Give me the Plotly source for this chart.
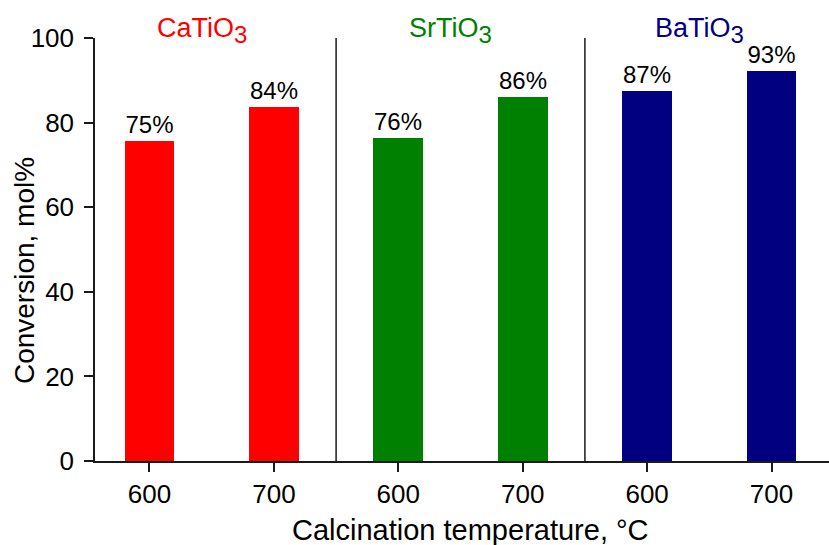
import plotly.graph_objects as go

materials = ["CaTiO<sub><span style='font-size:24px'>3</span></sub>",
             "SrTiO<sub><span style='font-size:24px'>3</span></sub>",
             "BaTiO<sub><span style='font-size:24px'>3</span></sub>"]
material_colors = ["#ff0000", "#008000", "#000080"]
temperatures = ["600", "700"]
conversion_ca = [75.6, 83.7]
conversion_sr = [76.3, 86.1]
conversion_ba = [87.5, 92.3]
labels_ca = ["75%", "84%"]
labels_sr = ["76%", "86%"]
labels_ba = ["87%", "93%"]

series = [conversion_ca, conversion_sr, conversion_ba]
labels = [labels_ca, labels_sr, labels_ba]

FONT = "Liberation Sans, Arial, sans-serif"
AX = "#1a1a1a"

fig = go.Figure()
xs_all, tt_all = [], []
for g, (vals, labs, col) in enumerate(zip(series, labels, material_colors)):
    xs = [g * len(temperatures) + i for i in range(len(temperatures))]
    xs_all += xs
    tt_all += temperatures
    fig.add_trace(go.Bar(
        x=xs, y=vals, width=0.4,
        marker=dict(color=col, line=dict(width=0)),
        text=labs, textposition="outside", cliponaxis=False,
        textfont=dict(family=FONT, size=24, color="#000"),
        showlegend=False,
    ))

ngroups = len(materials)
for g in range(1, ngroups):
    xsep = g * len(temperatures) - 0.5
    fig.add_shape(type="line", xref="x", yref="y", x0=xsep, x1=xsep, y0=0, y1=100,
                  line=dict(color=AX, width=1.5))

for g, (name, col) in enumerate(zip(materials, material_colors)):
    fig.add_annotation(x=g * len(temperatures) + 0.5, y=1, xref="x", yref="paper",
                       yanchor="bottom", xanchor="center", xshift=-10, yshift=-12,
                       text=name, showarrow=False,
                       font=dict(family=FONT, size=27, color=col))

fig.add_annotation(x=0, xref="paper", xshift=-71, y=0.449, yref="paper",
                   text="Conversion, mol%", textangle=-90, showarrow=False,
                   xanchor="center", yanchor="middle",
                   font=dict(family=FONT, size=28, color="#000"))
fig.add_annotation(x=0.5, xref="paper", xshift=8, y=-0.17, yref="paper", yshift=3,
                   text="Calcination temperature, °C", showarrow=False,
                   xanchor="center", yanchor="middle",
                   font=dict(family=FONT, size=29, color="#000"))

fig.update_layout(
    width=829, height=545,
    margin=dict(l=95, r=0, t=37.5, b=84),
    paper_bgcolor="white", plot_bgcolor="white",
    bargap=0,
)
fig.update_xaxes(range=[-0.438, 5.462], tickvals=xs_all, ticktext=tt_all,
                 showline=True, linecolor=AX, linewidth=1.5,
                 ticks="outside", ticklen=9, tickwidth=1.5, tickcolor=AX,
                 showgrid=False, zeroline=False,
                 tickfont=dict(family=FONT, size=26, color="#000"))
fig.update_yaxes(range=[0, 100], tickvals=[0, 20, 40, 60, 80, 100],
                 showline=True, linecolor=AX, linewidth=1.5,
                 ticks="outside", ticklen=9, tickwidth=1.5, tickcolor=AX,
                 showgrid=False, zeroline=False, ticklabelstandoff=5,
                 tickfont=dict(family=FONT, size=26, color="#000"))

fig.write_html("out.html")
